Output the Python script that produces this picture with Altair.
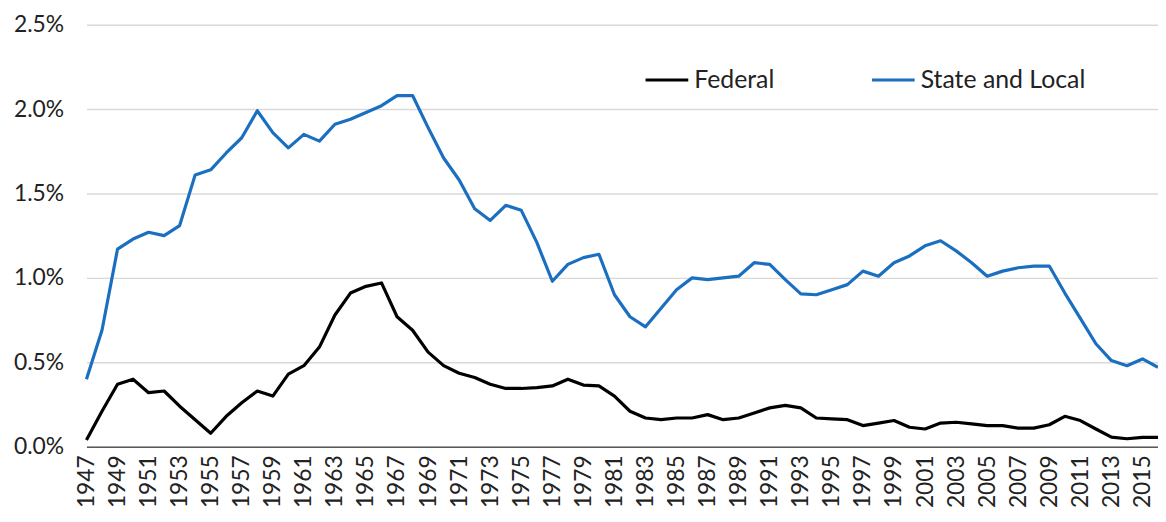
import altair as alt
import pandas as pd

years = list(range(1947, 2017))

federal = [0.04, 0.21, 0.37, 0.40, 0.32, 0.33, 0.24, 0.16, 0.08, 0.18,
           0.26, 0.33, 0.30, 0.43, 0.48, 0.59, 0.78, 0.91, 0.95, 0.97,
           0.77, 0.69, 0.56, 0.48, 0.435, 0.41, 0.37, 0.345, 0.345, 0.35,
           0.36, 0.40, 0.365, 0.36, 0.30, 0.21, 0.17, 0.16, 0.17, 0.17,
           0.19, 0.16, 0.17, 0.20, 0.23, 0.245, 0.23, 0.17, 0.165, 0.16,
           0.125, 0.14, 0.155, 0.115, 0.105, 0.14, 0.145, 0.135, 0.125, 0.125,
           0.11, 0.11, 0.13, 0.18, 0.155, 0.105, 0.057, 0.047, 0.055, 0.055]

state_local = [0.40, 0.69, 1.17, 1.23, 1.27, 1.25, 1.31, 1.61, 1.64, 1.74,
               1.83, 1.99, 1.86, 1.77, 1.85, 1.81, 1.91, 1.94, 1.98, 2.02,
               2.08, 2.08, 1.89, 1.71, 1.58, 1.41, 1.34, 1.43, 1.40, 1.21,
               0.98, 1.08, 1.12, 1.14, 0.90, 0.77, 0.71, 0.82, 0.93, 1.00,
               0.99, 1.00, 1.01, 1.09, 1.08, 0.99, 0.905, 0.90, 0.93, 0.96,
               1.04, 1.01, 1.09, 1.13, 1.19, 1.22, 1.16, 1.09, 1.01, 1.04,
               1.06, 1.07, 1.07, 0.91, 0.76, 0.61, 0.51, 0.48, 0.52, 0.47]

series_names = ["Federal", "State and Local"]
series_colors = ["#000000", "#1B6FC0"]
label_years = [str(y) for y in range(1947, 2017, 2)]

rows = []
for i, y in enumerate(years):
    rows.append({"year": str(y), "series": series_names[0], "value": federal[i] / 100})
    rows.append({"year": str(y), "series": series_names[1], "value": state_local[i] / 100})
df = pd.DataFrame(rows)

FONT = "Lato"

chart = alt.Chart(df).mark_line(strokeWidth=3.2, strokeJoin="round").encode(
    x=alt.X("year:O",
            scale=alt.Scale(type="point", padding=0),
            axis=alt.Axis(title=None, values=label_years, labelAngle=-90,
                          labelFontSize=23, labelColor="#222222", labelFont=FONT,
                          ticks=False, domainColor="#595959", domainWidth=1.5,
                          labelPadding=8, grid=False, labelBaseline="middle",
                          labelAlign="right")),
    y=alt.Y("value:Q",
            scale=alt.Scale(domain=[0, 0.025], nice=False),
            axis=alt.Axis(title=None, format=".1%", values=[0, 0.005, 0.01, 0.015, 0.02, 0.025],
                          labelFontSize=23, labelColor="#222222", labelFont=FONT,
                          ticks=False, domain=False, gridColor="#D9D9D9",
                          gridWidth=1.5, labelPadding=23)),
    color=alt.Color("series:N",
                    scale=alt.Scale(domain=series_names, range=series_colors),
                    legend=alt.Legend(title=None, orient="none", direction="horizontal",
                                      legendX=561, legendY=32,
                                      symbolType="stroke", symbolSize=1850,
                                      symbolStrokeWidth=3.2, labelFontSize=25,
                                      labelFont=FONT, labelColor="#222222",
                                      labelLimit=400,
                                      labelOffset=4, columnPadding=91)),
    order="series:N",
).properties(
    width=1079, height=425,
    padding={"left": 79, "top": 15, "right": 0, "bottom": 66},
    autosize=alt.AutoSizeParams(type="none"),
).configure_view(stroke=None)

chart.save("out.html", embed_options={"renderer": "svg", "actions": False})
